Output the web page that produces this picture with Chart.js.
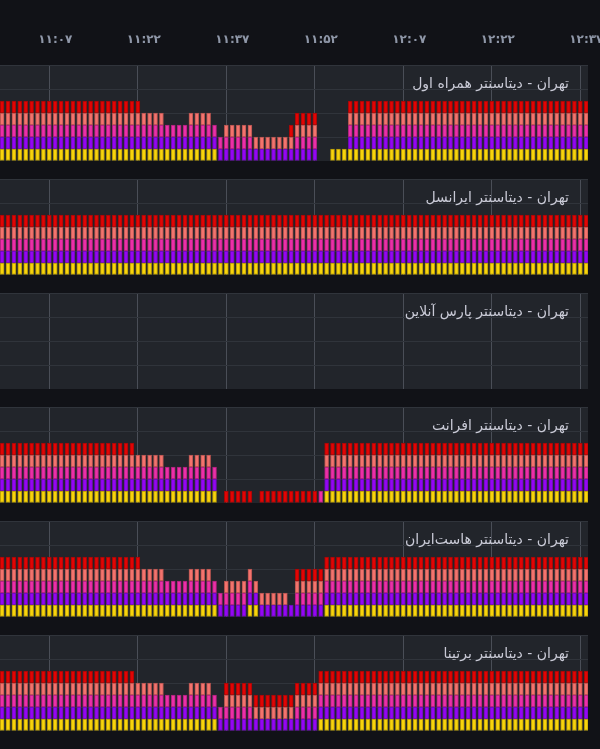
<!DOCTYPE html>
<html><head><meta charset="utf-8">
<script src="https://cdn.jsdelivr.net/npm/chart.js@4.4.1/dist/chart.umd.min.js"></script>
<style>
html,body{margin:0;padding:0;background:#111217;width:600px;height:749px;overflow:hidden;position:relative;}
.panel{position:absolute;left:0;width:588px;height:96px;background:#22252b;}
.panel canvas{position:absolute;left:0;top:0;}
.title{position:absolute;font:500 14px "DejaVu Sans",sans-serif;color:#c9cad6;direction:rtl;white-space:nowrap;line-height:16px;}
#axisWrap{position:absolute;left:6px;top:0;width:620px;height:65px;}
</style></head><body>
<div id="axisWrap"><canvas id="axis" width="620" height="65"></canvas></div>
<script>
// ---- data ----
const startMinute = 659;            // first bar 10:59
const barCount = 100;               // one bar per minute
const tickMinutes = [667, 682, 697, 712, 727, 742, 757]; // 11:07 ... 12:37
const xMin = 658.64, xMax = 758.3;

const seriesNames   = ['yellow', 'purple', 'magenta', 'salmon', 'red'];
const seriesKeys    = ['Y', 'P', 'M', 'S', 'R'];
const seriesColors  = ['#f8d40c', '#9306f5', '#ec2fa8', '#f4736d', '#e20404'];
const seriesBorders = ['#b09608', '#6a0cb0', '#a82278', '#b0524e', '#a00808'];

const panelTitles = [
  'تهران - دیتاسنتر همراه اول',
  'تهران - دیتاسنتر ایرانسل',
  'تهران - دیتاسنتر پارس آنلاین',
  'تهران - دیتاسنتر افرانت',
  'تهران - دیتاسنتر هاست‌ایران',
  'تهران - دیتاسنتر برتینا'
];
const panelTops = [65, 179, 293, 407, 521, 635];

// bar codes -> which stacked segments are present (each segment = 1)
const codeSeries = {F:'YPMSR', A:'YPMS', B:'YPM', C:'PM', D:'PMS', E:'PS', G:'PSR', H:'PMSR', I:'Y', J:'P', K:'YPS', R:'R', M:'M', _:''};

// one character per bar (100 bars)
const panel1 = 'FFFFFFFFFF' + 'FFFFFFFFFF' + 'FFFF' + 'AAAABBBBAAAABCDDDDDEEEEEEGHHHH__III' + 'FFFFFFFFFF' + 'FFFFFFFFFF' + 'FFFFFFFFFF' + 'FFFFFFFFFF' + 'F';
const panel2 = 'FFFFFFFFFF' + 'FFFFFFFFFF' + 'FFFFFFFFFF' + 'FFFFFFFFFF' + 'FFFFFFFFFF' + 'FFFFFFFFFF' + 'FFFFFFFFFF' + 'FFFFFFFFFF' + 'FFFFFFFFFF' + 'FFFFFFFFFF';
const panel3 = '__________' + '__________' + '__________' + '__________' + '__________' + '__________' + '__________' + '__________' + '__________' + '__________';
const panel4 = 'FFFFFFFFFF' + 'FFFFFFFFFF' + 'FFF' + 'AAAAABBBBAAAAB_RRRRR_RRRRRRRRRRM' + 'FFFFFFFFFF' + 'FFFFFFFFFF' + 'FFFFFFFFFF' + 'FFFFFFFFFF' + 'FFFFF';
const panel5 = 'FFFFFFFFFF' + 'FFFFFFFFFF' + 'FFFF' + 'AAAABBBBAAAABCDDDDAKEEEEEJHHHHH' + 'FFFFFFFFFF' + 'FFFFFFFFFF' + 'FFFFFFFFFF' + 'FFFFFFFFFF' + 'FFFFF';
const panel6 = 'FFFFFFFFFF' + 'FFFFFFFFFF' + 'FFF' + 'AAAAABBBBAAAABCHHHHHGGGGGGGHHHH' + 'FFFFFFFFFF' + 'FFFFFFFFFF' + 'FFFFFFFFFF' + 'FFFFFFFFFF' + 'FFFFFF';
const panelCodes = [panel1, panel2, panel3, panel4, panel5, panel6];

// ---- helpers ----
const faDigits = '۰۱۲۳۴۵۶۷۸۹';
function fa(s){ return String(s).replace(/[0-9]/g, d => faDigits[+d]); }
function fmtMinute(m){
  const h = Math.floor(m / 60), mm = Math.round(m % 60);
  return fa(h + ':' + (mm < 10 ? '0' : '') + mm);
}
const barMinutes = [];
for (let i = 0; i < barCount; i++) barMinutes.push(startMinute + i);

function setTicks(scale){ scale.ticks = tickMinutes.map(v => ({value: v})); }

// ---- axis ----
new Chart(document.getElementById('axis'), {
  type: 'bar',
  data: {datasets: []},
  options: {
    responsive: false, animation: false,
    layout: {padding: {left: 0, right: 32, top: 0, bottom: 0}},
    plugins: {legend: {display: false}, tooltip: {enabled: false}},
    scales: {
      x: {
        type: 'linear', position: 'top', min: xMin, max: xMax, offset: false,
        afterBuildTicks: setTicks,
        afterFit: s => { s.height = 47; },
        grid: {display: false, drawTicks: false, offset: false},
        border: {display: false},
        ticks: {padding: 0, maxRotation: 0, autoSkip: false, color: '#8f97a8',
                font: {family: 'DejaVu Sans', size: 12, weight: 'bold'},
                callback: v => fmtMinute(v)}
      },
      y: {display: false, min: 0, max: 1}
    }
  }
});

// ---- panels ----
panelCodes.forEach((codes, p) => {
  const div = document.createElement('div');
  div.className = 'panel';
  div.style.top = panelTops[p] + 'px';
  const cv = document.createElement('canvas');
  cv.width = 588; cv.height = 96;
  div.appendChild(cv);
  const t = document.createElement('div');
  t.className = 'title';
  t.style.top = '10px';
  t.style.right = '19px';
  t.textContent = panelTitles[p];
  div.appendChild(t);
  document.body.appendChild(div);

  const datasets = seriesKeys.map((k, s) => ({
    label: seriesNames[s],
    data: barMinutes.map((m, i) => ({x: m, y: codeSeries[codes[i]].includes(k) ? 1 : null})),
    backgroundColor: seriesColors[s],
    borderColor: seriesBorders[s],
    borderWidth: 1,
    borderSkipped: false,
    barThickness: 4,
    stack: 'a'
  }));

  new Chart(cv, {
    type: 'bar',
    data: {datasets},
    options: {
      responsive: false, animation: false,
      layout: {padding: 0},
      plugins: {legend: {display: false}, tooltip: {enabled: false}},
      scales: {
        x: {
          type: 'linear', min: xMin, max: xMax, stacked: true, offset: false,
          afterBuildTicks: setTicks,
          afterFit: s => { s.height = 0; },
          ticks: {display: false},
          grid: {color: '#4a4e57', drawTicks: false, offset: false},
          border: {display: false}
        },
        y: {
          min: 0, max: 8, stacked: true,
          ticks: {display: false, stepSize: 2},
          afterFit: s => { s.width = 0; },
          grid: {color: '#30343b', drawTicks: false},
          border: {display: false}
        }
      }
    }
  });
});
</script>
</body></html>
